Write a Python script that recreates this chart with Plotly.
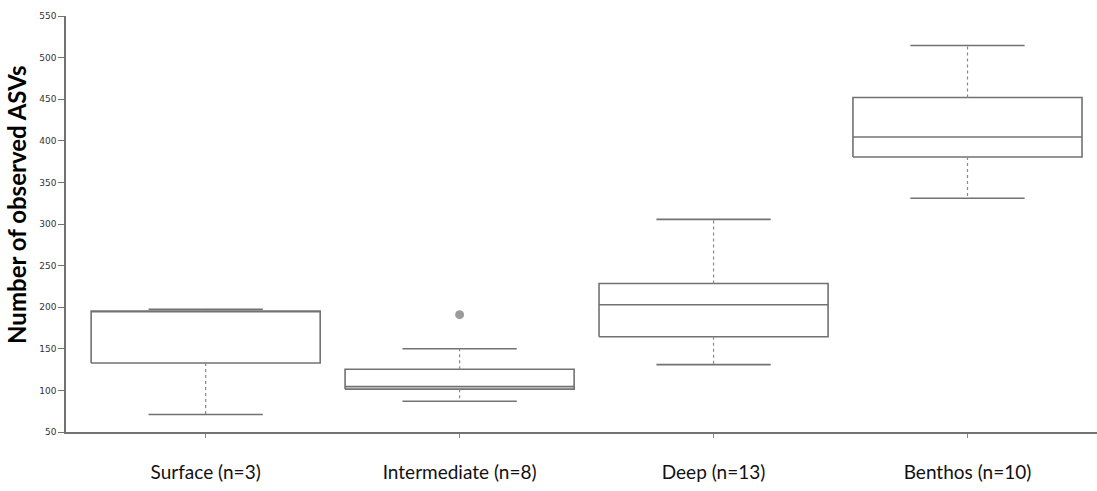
import plotly.graph_objects as go

# Observed ASV counts per habitat layer: box statistics
categories = ["Surface (n=3)", "Intermediate (n=8)", "Deep (n=13)", "Benthos (n=10)"]
lower_whisker = [71, 87, 131, 331]
q1 = [133, 101.5, 164.5, 380.5]
median = [194.5, 104.5, 203, 404.5]
q3 = [195.5, 125.5, 228.5, 452]
upper_whisker = [197.5, 150, 305.5, 514.5]
outlier_group = [1]
outlier_value = [191]

y_ticks = list(range(50, 551, 50))

BOX_HALF = 0.451
CAP_HALF = 0.225
LINE_COLOR = "#727272"

fig = go.Figure()

for i, name in enumerate(categories):
    # box body
    fig.add_trace(go.Scatter(
        x=[i - BOX_HALF, i + BOX_HALF, i + BOX_HALF, i - BOX_HALF, i - BOX_HALF],
        y=[q1[i], q1[i], q3[i], q3[i], q1[i]],
        mode="lines", line=dict(color=LINE_COLOR, width=1.6),
        hoverinfo="skip", showlegend=False,
    ))
    # median
    fig.add_trace(go.Scatter(
        x=[i - BOX_HALF, i + BOX_HALF], y=[median[i], median[i]],
        mode="lines", line=dict(color=LINE_COLOR, width=1.6),
        hoverinfo="skip", showlegend=False,
    ))
    # dotted whisker stems
    for a, b in ((q3[i], upper_whisker[i]), (q1[i], lower_whisker[i])):
        fig.add_trace(go.Scatter(
            x=[i, i], y=[a, b], mode="lines",
            line=dict(color="#8a8a8a", width=1.2, dash="dot"),
            hoverinfo="skip", showlegend=False,
        ))
    # whisker caps
    for v in (upper_whisker[i], lower_whisker[i]):
        fig.add_trace(go.Scatter(
            x=[i - CAP_HALF, i + CAP_HALF], y=[v, v], mode="lines",
            line=dict(color=LINE_COLOR, width=1.6),
            hoverinfo="skip", showlegend=False,
        ))

# outliers
fig.add_trace(go.Scatter(
    x=outlier_group, y=outlier_value, mode="markers",
    marker=dict(color="#9b9b9b", size=9),
    hoverinfo="skip", showlegend=False,
))

# y-axis title, placed a little above the plot's vertical centre
fig.add_annotation(
    text="<b>Number of observed ASVs</b>", textangle=-90,
    xref="paper", yref="paper", x=-0.0475, y=0.546,
    xanchor="center", yanchor="middle", showarrow=False,
    font=dict(family="Lato, Open Sans, sans-serif", size=24, color="#000"),
)

fig.update_layout(
    width=1097, height=491,
    margin=dict(l=66, r=0, t=16, b=59),
    paper_bgcolor="white", plot_bgcolor="white",
    xaxis=dict(
        range=[-0.55, 3.51],
        tickvals=list(range(len(categories))), ticktext=categories,
        showgrid=False, zeroline=False,
        showline=True, linecolor=LINE_COLOR, linewidth=1.6,
        ticks="outside", ticklen=4, tickcolor="#888", tickwidth=1,
        ticklabelstandoff=18,
        tickfont=dict(family="Lato, Open Sans, sans-serif", size=19, color="#111"),
    ),
    yaxis=dict(
        range=[50, 550],
        tickvals=y_ticks,
        showgrid=False, zeroline=False,
        showline=True, linecolor=LINE_COLOR, linewidth=1.6,
        ticks="outside", ticklen=6, tickcolor=LINE_COLOR, tickwidth=1,
        tickfont=dict(family="DejaVu Sans, sans-serif", size=9, color="#333"),
    ),
)

fig.write_html("out.html")
